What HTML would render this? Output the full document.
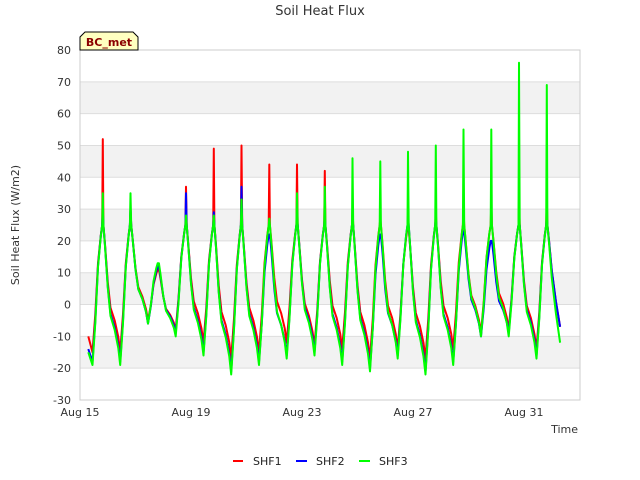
<!DOCTYPE html>
<html><head><meta charset="utf-8">
<style>
body{margin:0;background:#fff;}
svg{display:block;font-family:"DejaVu Sans","Liberation Sans",sans-serif;}
</style></head>
<body>
<svg id="chart" width="640" height="480" viewBox="0 0 640 480" xmlns="http://www.w3.org/2000/svg">
  <rect x="0" y="0" width="640" height="480" fill="#fff"/>
  <g id="bands"></g>
  <g id="grid"></g>
  <rect x="80" y="50" width="500" height="350" fill="none" stroke="#ccc"/>
  <g id="yticks"></g>
  <g id="xticks"></g>
  <g id="series"></g>
  <text x="320" y="15" text-anchor="middle" font-size="13" fill="#333">Soil Heat Flux</text>
  <text x="19" y="225" text-anchor="middle" font-size="11" fill="#333" transform="rotate(-90 19 225)">Soil Heat Flux (W/m2)</text>
  <text x="578" y="433" text-anchor="end" font-size="11" fill="#333">Time</text>
  <g>
    <path d="M80,50 L80,37 L85,32 L133,32 L138,37 L138,50 Z" fill="#ffffc0" stroke="#000" stroke-width="1"/>
    <text x="109" y="46" text-anchor="middle" font-size="11" font-weight="bold" fill="#8b0000">BC_met</text>
  </g>
  <g>
    <g><line x1="233" y1="461" x2="243" y2="461" stroke="#f00" stroke-width="2"/><text x="253" y="465" font-size="11" fill="#222">SHF1</text></g>
    <g><line x1="296" y1="461" x2="307" y2="461" stroke="#00f" stroke-width="2"/><text x="316" y="465" font-size="11" fill="#222">SHF2</text></g>
    <g><line x1="359" y1="461" x2="370" y2="461" stroke="#0f0" stroke-width="2"/><text x="379" y="465" font-size="11" fill="#222">SHF3</text></g>
  </g>
</svg>
<script>
// Data (days since Aug 15; one entry per daily cycle)
const yTicks = [-30,-20,-10,0,10,20,30,40,50,60,70,80];
const xTickDays = [0,4,8,12,16];
const xTickLabels = ["Aug 15","Aug 19","Aug 23","Aug 27","Aug 31"];
const shf1Min = [-15,-15,-5,-8,-12,-17,-15,-12,-13,-14,-17,-14,-17,-14,-9,-8,-14];
const shf2Min = [-18,-18,-6,-9,-15,-21,-18,-16,-15,-18,-20,-16,-21,-18,-10,-9,-16];
const shf3Min = [-19,-19,-6,-10,-16,-22,-19,-17,-16,-19,-21,-17,-22,-19,-10,-10,-17];
const shf1Peak = [52,30,11,37,49,50,44,44,42,30,27,24,29,30,32,33,33];
const shf2Peak = [30,30,12,35,29,37,22,27,28,25,22,28,27,23,20,25,28];
const shf3Peak = [35,35,13,28,28,33,27,35,37,46,45,48,50,55,55,76,69];
const startVals = [-10,-14,-15];
const endVals = [-7,-7,-12];

const X0=80, X1=580, Y0=400, Y1=50, DMIN=0, DMAX=500/27.75, VMIN=-30, VMAX=80;
const xs = d => X0 + (d-DMIN)/(DMAX-DMIN)*(X1-X0);
const ys = v => Y0 - (v-VMIN)/(VMAX-VMIN)*(Y0-Y1);
const NS="http://www.w3.org/2000/svg";
function mk(tag, attrs, parent){const e=document.createElementNS(NS,tag);for(const k in attrs)e.setAttribute(k,attrs[k]);parent.appendChild(e);return e;}

const bands=document.getElementById('bands');
for(let v=-20; v<80; v+=20){
  const r=mk('rect',{x:X0,y:ys(v+10),width:X1-X0,height:ys(v)-ys(v+10),fill:'#f2f2f2'},bands);
  
  
}
const grid=document.getElementById('grid'), yt=document.getElementById('yticks');
yTicks.forEach(v=>{
  const l=mk('line',{x1:X0,x2:X1,y1:ys(v),y2:ys(v),stroke:'#ddd','stroke-width':1},grid);
  
  
  const t=mk('text',{x:71,y:ys(v)+4,'text-anchor':'end','font-size':11,fill:'#333'},yt);
  t.textContent=v;
  
  
});
const xt=document.getElementById('xticks');
xTickDays.forEach((d,i)=>{
  const t=mk('text',{x:xs(d),y:416,'text-anchor':'middle','font-size':11,fill:'#333'},xt);
  t.textContent=xTickLabels[i];
  
  
});

function build(mins, peaks, s, e){
  const pts=[[0.3,s]];
  const n=mins.length;
  for(let d=0; d<n; d++){
    const m=mins[d], p=peaks[d], sh=Math.min(p,25);
    const nm = d+1<n ? mins[d+1] : e;
    pts.push([d+0.45,m],[d+0.55,m+0.3*(sh-m)],[d+0.65,m+0.7*(sh-m)],[d+0.75,m+0.92*(sh-m)],[d+0.8,sh],[d+0.82,p],[d+0.845,sh]);
    if(d+1<n){
      pts.push([d+0.9,nm+0.85*(sh-nm)],[d+1.0,nm+0.55*(sh-nm)],[d+1.1,nm+0.35*(sh-nm)],[d+1.25,nm+0.25*(sh-nm)],[d+1.38,nm+0.12*(sh-nm)]);
    } else {
      pts.push([d+0.9,nm+0.85*(sh-nm)],[d+1.0,nm+0.55*(sh-nm)],[d+1.15,nm+0.25*(sh-nm)],[d+1.3,e]);
    }
  }
  return pts;
}
const seriesG=document.getElementById('series');
[[shf1Min,shf1Peak,0,'#f00','series-shf1'],[shf2Min,shf2Peak,1,'#00f','series-shf2'],[shf3Min,shf3Peak,2,'#0f0','series-shf3']].forEach(([mn,pk,i,c,name])=>{
  const pts=build(mn,pk,startVals[i],endVals[i]);
  const dstr=pts.map((p,j)=>(j?'L':'M')+xs(p[0]).toFixed(1)+','+ys(p[1]).toFixed(1)).join(' ');
  const path=mk('path',{d:dstr,fill:'none',stroke:c,'stroke-width':2,'stroke-linejoin':'round'},seriesG);
  
  
});
</script>
</body></html>
